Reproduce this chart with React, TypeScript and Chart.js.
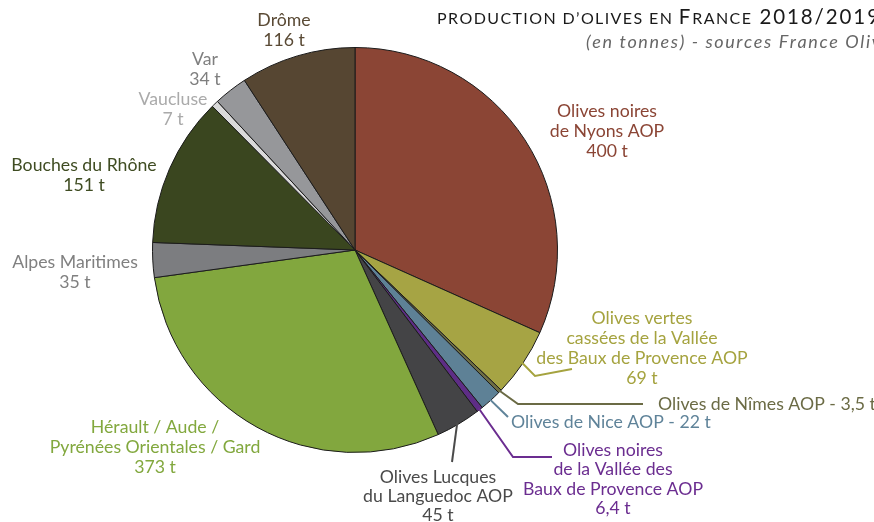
import React, { useEffect, useRef } from "react";
import { Chart, registerables } from "chart.js";

Chart.register(...registerables);

const categories = [
  "Olives noires de Nyons AOP",
  "Olives vertes cassées de la Vallée des Baux de Provence AOP",
  "Olives de Nîmes AOP",
  "Olives de Nice AOP",
  "Olives noires de la Vallée des Baux de Provence AOP",
  "Olives Lucques du Languedoc AOP",
  "Hérault / Aude / Pyrénées Orientales / Gard",
  "Alpes Maritimes",
  "Bouches du Rhône",
  "Vaucluse",
  "Var",
  "Drôme",
];
const values = [400, 69, 3.5, 22, 6.4, 45, 373, 35, 151, 7, 34, 116];
const labelLines = [
  ["Olives noires", "de Nyons AOP", "400 t"],
  ["Olives vertes", "cassées de la Vallée", "des Baux de Provence AOP", "69 t"],
  ["Olives de Nîmes AOP - 3,5 t"],
  ["Olives de Nice AOP - 22 t"],
  ["Olives noires", "de la Vallée des", "Baux de Provence AOP", "6,4 t"],
  ["Olives Lucques", "du Languedoc AOP", "45 t"],
  ["Hérault / Aude /", "Pyrénées Orientales / Gard", "373 t"],
  ["Alpes Maritimes", "35 t"],
  ["Bouches du Rhône", "151 t"],
  ["Vaucluse", "7 t"],
  ["Var", "34 t"],
  ["Drôme", "116 t"],
];
const sliceColors = [
  "#8B4535", "#A6A444", "#6E6E45", "#5E8196", "#5E2D86", "#444446",
  "#82A73E", "#7C7D80", "#3A461F", "#DADADA", "#96979A", "#564632",
];
const labelColors = [
  "#8B4535", "#A5A33F", "#6B6B45", "#5F8399", "#6B2D90", "#4A4A4A",
  "#82A83E", "#808080", "#3F4C22", "#AAAAAA", "#7F7F7F", "#5A4A35",
];
const titleParts = [
  { t: "PRODUCTION D\u2019OLIVES EN ", small: true },
  { t: "F", small: false },
  { t: "RANCE", small: true },
  { t: " 2018/2019", small: false },
];
const subtitle = "(en tonnes) - sources France Olive";

// layout of labels: x, first line y, alignment, leader points (after arc edge)
const labelLayout: { x: number; y: number; align: CanvasTextAlign; lh: number; leader: number[][] | null }[] = [
  { x: 607, y: 111, align: "center", lh: 20, leader: null },
  { x: 642, y: 318, align: "center", lh: 20, leader: [[535, 376], [572, 369]] },
  { x: 658, y: 404, align: "left", lh: 20, leader: [[518, 404], [643, 404]] },
  { x: 511, y: 422, align: "left", lh: 20, leader: [[508, 417]] },
  { x: 613, y: 450, align: "center", lh: 19.5, leader: [[513, 457], [552, 457]] },
  { x: 438, y: 477, align: "center", lh: 19, leader: [[452, 462]] },
  { x: 155, y: 427, align: "center", lh: 20, leader: null },
  { x: 75, y: 262, align: "center", lh: 20, leader: null },
  { x: 84, y: 165, align: "center", lh: 20, leader: null },
  { x: 173, y: 99, align: "center", lh: 20, leader: null },
  { x: 205, y: 59, align: "center", lh: 20, leader: null },
  { x: 284, y: 20, align: "center", lh: 20, leader: null },
];

const FONT = "Lato, 'Open Sans', sans-serif";

function drawSpaced(ctx: CanvasRenderingContext2D, text: string, x: number, y: number, spacing: number) {
  let cx = x;
  for (const ch of text) {
    ctx.fillText(ch, cx, y);
    cx += ctx.measureText(ch).width + spacing;
  }
  return cx;
}

const labelPlugin = {
  id: "oliveLabels",
  afterDraw(chart: any) {
    const ctx: CanvasRenderingContext2D = chart.ctx;
    const meta = chart.getDatasetMeta(0);
    ctx.save();
    // leader lines
    meta.data.forEach((arc: any, i: number) => {
      const lay = labelLayout[i];
      if (!lay.leader) return;
      const p = arc.getProps(["x", "y", "startAngle", "endAngle", "outerRadius"], true);
      const mid = (p.startAngle + p.endAngle) / 2;
      const sx = p.x + Math.cos(mid) * (p.outerRadius - 2);
      const sy = p.y + Math.sin(mid) * (p.outerRadius - 2);
      ctx.beginPath();
      ctx.moveTo(sx, sy);
      lay.leader.forEach((pt) => ctx.lineTo(pt[0], pt[1]));
      ctx.strokeStyle = labelColors[i];
      ctx.lineWidth = 2;
      ctx.stroke();
    });
    // labels
    ctx.font = `17.7px ${FONT}`;
    ctx.textBaseline = "middle";
    labelLines.forEach((lines, i) => {
      const lay = labelLayout[i];
      ctx.fillStyle = labelColors[i];
      ctx.textAlign = lay.align;
      lines.forEach((ln, k) => ctx.fillText(ln, lay.x, lay.y + k * lay.lh));
    });
    // title
    ctx.textAlign = "left";
    ctx.textBaseline = "alphabetic";
    ctx.fillStyle = "#1a1a1a";
    let x = 437;
    titleParts.forEach((part) => {
      ctx.font = part.small ? `16px ${FONT}` : `20.5px ${FONT}`;
      x = drawSpaced(ctx, part.t, x, 24, part.small ? 1.4 : 1.9);
    });
    ctx.font = `italic 18px ${FONT}`;
    ctx.fillStyle = "#666666";
    drawSpaced(ctx, subtitle, 586, 48, 1.6);
    ctx.restore();
  },
};

export default function App() {
  const ref = useRef<HTMLCanvasElement | null>(null);
  useEffect(() => {
    if (!ref.current) return;
    const chart = new Chart(ref.current, {
      type: "pie",
      data: {
        labels: categories,
        datasets: [
          {
            data: values,
            backgroundColor: sliceColors,
            borderColor: "#1b1b1b",
            borderWidth: 1,
          },
        ],
      },
      options: {
        responsive: false,
        animation: false,
        layout: { padding: { left: 152, right: 316, top: 47, bottom: 69 } },
        plugins: {
          legend: { display: false },
          title: { display: false },
          tooltip: { enabled: false },
        },
      },
      plugins: [labelPlugin],
    });
    return () => chart.destroy();
  }, []);
  return (
    <div style={{ position: "absolute", left: 0, top: 0, width: 874, height: 522, background: "#fff" }}>
      <canvas ref={ref} width={874} height={522} style={{ display: "block" }} />
    </div>
  );
}
